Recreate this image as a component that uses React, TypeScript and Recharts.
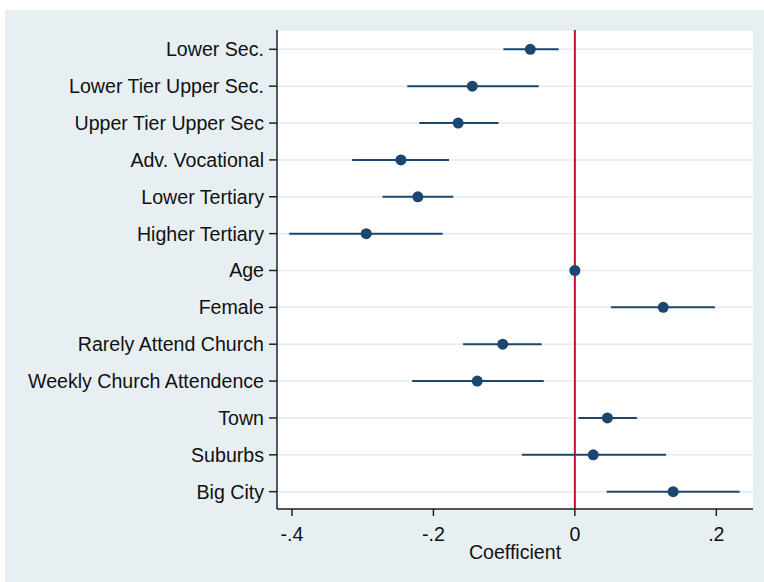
import React from "react";
import {
  ScatterChart,
  Scatter,
  XAxis,
  YAxis,
  CartesianGrid,
  ReferenceLine,
  ErrorBar,
  Label,
} from "recharts";

const labels = [
  "Lower Sec.",
  "Lower Tier Upper Sec.",
  "Upper Tier Upper Sec",
  "Adv. Vocational",
  "Lower Tertiary",
  "Higher Tertiary",
  "Age",
  "Female",
  "Rarely Attend Church",
  "Weekly Church Attendence",
  "Town",
  "Suburbs",
  "Big City",
];
const coefs = [-0.063, -0.145, -0.165, -0.246, -0.222, -0.295, 0.0, 0.125, -0.102, -0.138, 0.046, 0.026, 0.139];
const lows = [-0.101, -0.237, -0.22, -0.315, -0.272, -0.404, 0.0, 0.051, -0.158, -0.23, 0.005, -0.075, 0.045];
const highs = [-0.023, -0.051, -0.108, -0.178, -0.172, -0.187, 0.0, 0.198, -0.047, -0.044, 0.088, 0.129, 0.233];
const xTicks = [-0.4, -0.2, 0, 0.2];

const rows = labels.map((_, i) => i + 1);
const data = labels.map((name, i) => ({
  name,
  row: i + 1,
  coef: coefs[i],
  err: [coefs[i] - lows[i], highs[i] - coefs[i]],
}));

const navy = "#1a476f";
const fmtX = (v: number) =>
  v === 0 ? "0" : (v < 0 ? "-" : "") + "." + Math.round(Math.abs(v) * 10);

export default function App() {
  const tickStyle = { fill: "#111", fontSize: 19.6 };
  return (
    <div
      style={{
        position: "absolute",
        left: 5,
        top: 10,
        width: 759,
        height: 572,
        background: "#e8eff2",
        fontFamily: "'Liberation Sans', Arial, sans-serif",
      }}
    >
      <ScatterChart width={759} height={572} margin={{ top: 20, right: 11, left: 0, bottom: 0 }}>
        <CartesianGrid vertical={false} fill="#ffffff" stroke="#e3ecef" strokeWidth={1.5} />
        <XAxis
          type="number"
          dataKey="coef"
          domain={[-0.4212, 0.2519]}
          allowDataOverflow
          ticks={xTicks}
          tickFormatter={fmtX}
          height={73}
          tickSize={7}
          tickMargin={11}
          tick={tickStyle}
          stroke="#222"
          strokeWidth={1.5}
        >
          <Label value="Coefficient" position="insideBottom" offset={23} fill="#111" fontSize={19.6} />
        </XAxis>
        <YAxis
          type="number"
          dataKey="row"
          domain={[0.476, 13.47]}
          allowDataOverflow
          reversed
          ticks={rows}
          interval={0}
          tickFormatter={(v: number) => labels[v - 1]}
          width={272}
          tickSize={8}
          tickMargin={5}
          tick={tickStyle}
          stroke="#222"
          strokeWidth={1.5}
        />
        <ReferenceLine x={0} stroke="#c8102e" strokeWidth={2} />
        <Scatter
          data={data}
          isAnimationActive={false}
          fill={navy}
          shape={(p: any) => <circle cx={p.cx} cy={p.cy} r={5.5} fill={navy} />}
        >
          <ErrorBar dataKey="err" direction="x" width={0} stroke={navy} strokeWidth={2} />
        </Scatter>
      </ScatterChart>
    </div>
  );
}
